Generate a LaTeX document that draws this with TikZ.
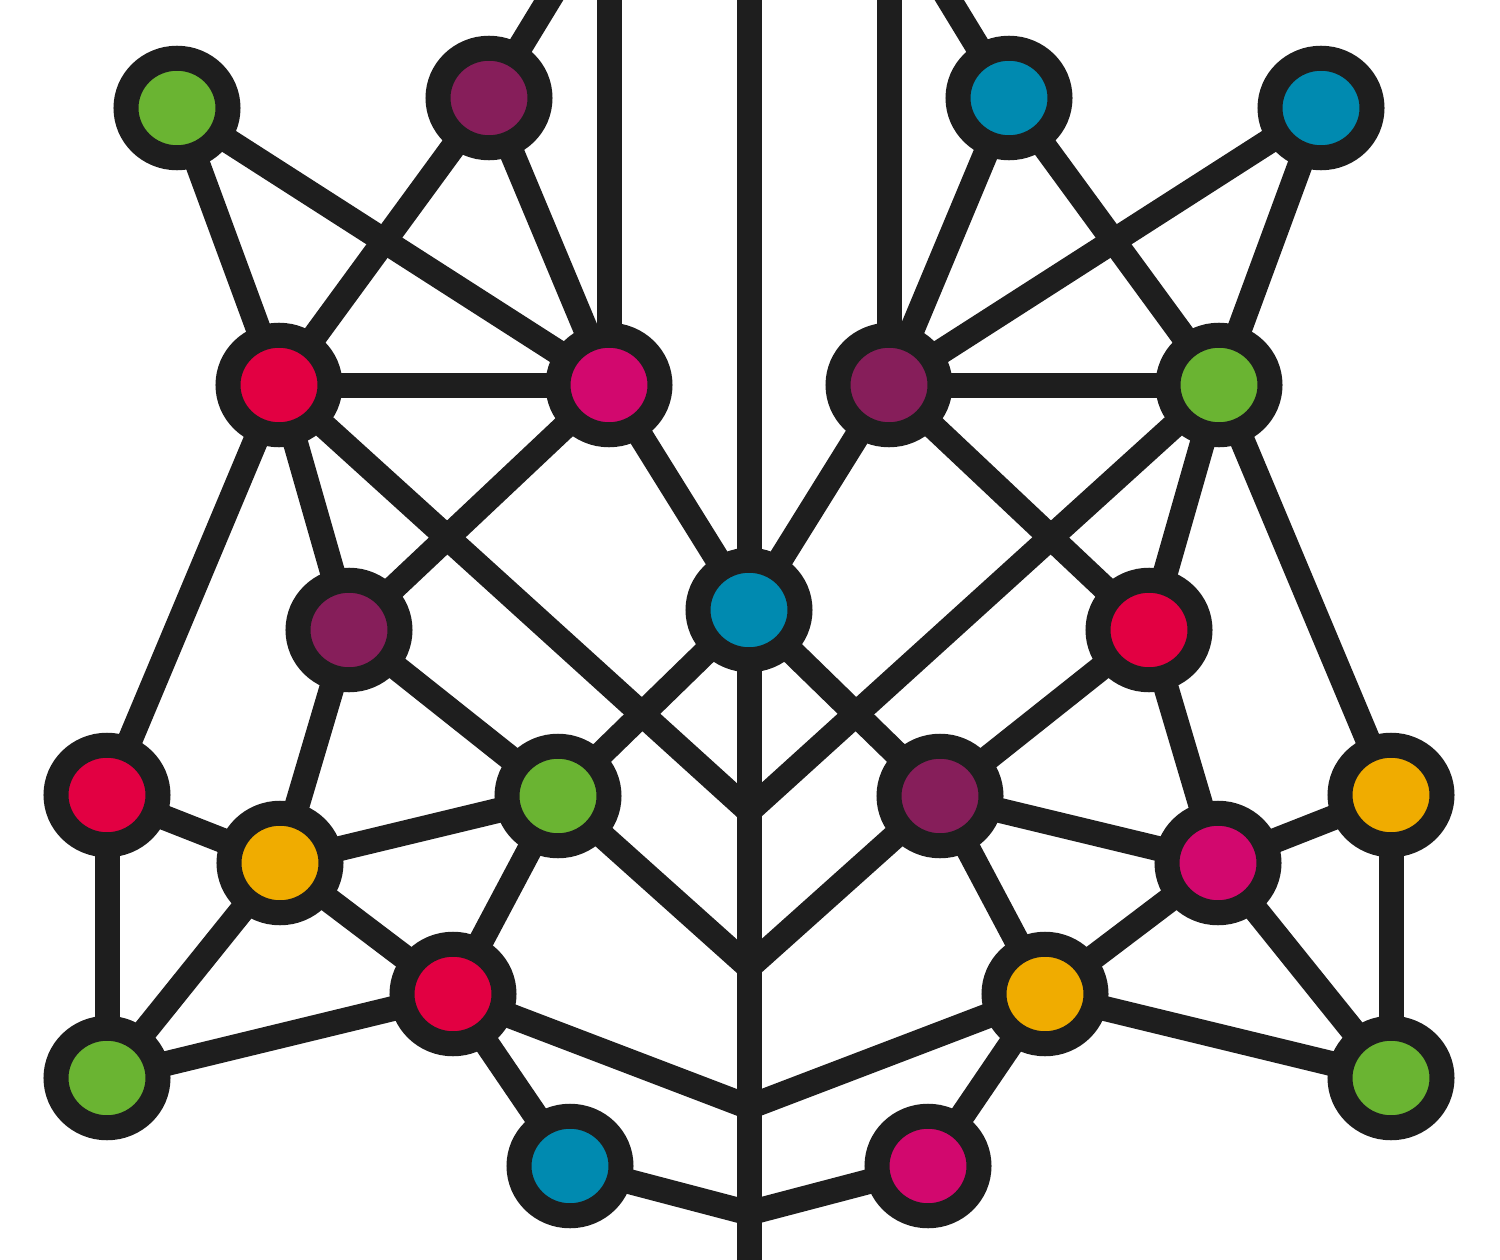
\documentclass[tikz,border=0pt]{standalone}
\usetikzlibrary{shapes.geometric}
\pgfdeclarelayer{background}
\pgfsetlayers{background,main}
\definecolor{ink}{HTML}{1E1E1E}
\definecolor{cgreen}{HTML}{6AB432}
\definecolor{cpurple}{HTML}{861E5A}
\definecolor{cblue}{HTML}{008AB0}
\definecolor{cred}{HTML}{E20042}
\definecolor{cmagenta}{HTML}{D2086E}
\definecolor{cyellow}{HTML}{F0AC00}
\begin{document}
\begin{tikzpicture}[x=1pt,y=-1pt,
  dot/.style={ellipse, draw=ink, line width=25pt, minimum width=102pt, minimum height=99.5pt, inner sep=0pt},
  link/.style={draw=ink, line width=25pt}]
\useasboundingbox (0,0) rectangle (1500,1260);
% left half
\node[dot, fill=cgreen]   (n1)  at (177,108) {};
\node[dot, fill=cpurple]  (n2)  at (489,98)  {};
\node[dot, fill=cred]     (n5)  at (279,385) {};
\node[dot, fill=cmagenta] (n6)  at (609,385) {};
\node[dot, fill=cpurple]  (n10) at (349,630) {};
\node[dot, fill=cred]     (n12) at (107,795) {};
\node[dot, fill=cgreen]   (n13) at (558,796) {};
\node[dot, fill=cyellow]  (n16) at (280,863) {};
\node[dot, fill=cred]     (n18) at (453,994) {};
\node[dot, fill=cgreen]   (n20) at (107,1078) {};
\node[dot, fill=cblue]    (n22) at (570,1166) {};
% centre
\node[dot, fill=cblue]    (n9)  at (749,610) {};
% right half
\node[dot, fill=cblue]    (n4)  at (1321,108) {};
\node[dot, fill=cblue]    (n3)  at (1009,98)  {};
\node[dot, fill=cgreen]   (n8)  at (1219,385) {};
\node[dot, fill=cpurple]  (n7)  at (889,385) {};
\node[dot, fill=cred]     (n11) at (1149,630) {};
\node[dot, fill=cyellow]  (n15) at (1391,795) {};
\node[dot, fill=cpurple]  (n14) at (940,796) {};
\node[dot, fill=cmagenta] (n17) at (1218,863) {};
\node[dot, fill=cyellow]  (n19) at (1045,994) {};
\node[dot, fill=cgreen]   (n21) at (1391,1078) {};
\node[dot, fill=cmagenta] (n23) at (928,1166) {};
% free ends and junctions
\coordinate (t2) at (567,-30);
\coordinate (tL) at (609,-30);
\coordinate (tC) at (749,-30);
\coordinate (tR) at (889,-30);
\coordinate (t3) at (931,-30);
\coordinate (bC) at (749,1290);
\coordinate (J1) at (749,811);
\coordinate (J2) at (749,967);
\coordinate (J3) at (749,1107);
\coordinate (J4) at (749,1213);
\begin{pgfonlayer}{background}
\clip (0,0) rectangle (1500,1260);
\foreach \a/\b in {n1/n5, n1/n6, n2/n5, n2/n6, n2/t2, tL/n6, n5/n6, n5/n12, n5/n10, n5/J1,
  n6/n10, n6/n9, n10/n13, n10/n16, n12/n16, n12/n20, n13/n9, n13/n16, n13/n18, n13/J2,
  n16/n18, n16/n20, n18/n20, n18/n22, n18/J3, n22/J4,
  n4/n8, n4/n7, n3/n8, n3/n7, n3/t3, tR/n7, n8/n7, n8/n15, n8/n11, n8/J1,
  n7/n11, n7/n9, n11/n14, n11/n17, n15/n17, n15/n21, n14/n9, n14/n17, n14/n19, n14/J2,
  n17/n19, n17/n21, n19/n21, n19/n23, n19/J3, n23/J4, tC/bC}
  \draw[link] (\a.center) -- (\b.center);
\end{pgfonlayer}
\end{tikzpicture}
\end{document}
